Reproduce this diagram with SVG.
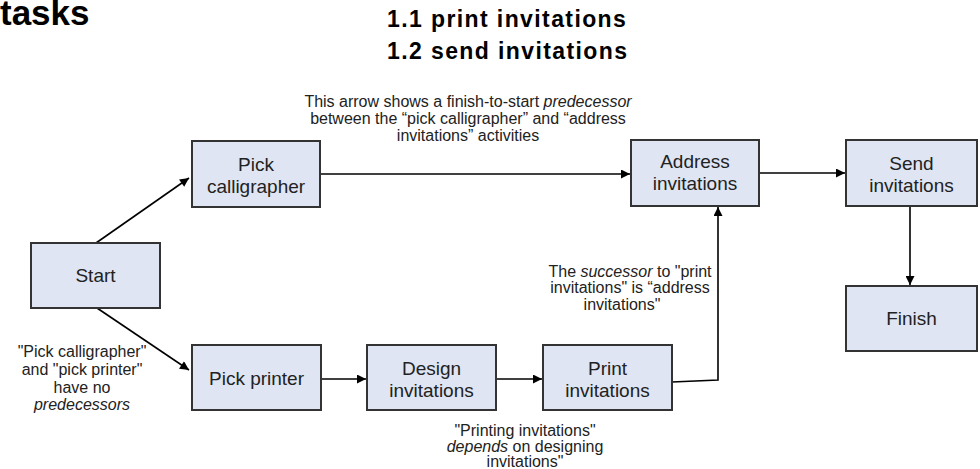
<svg xmlns="http://www.w3.org/2000/svg" width="980" height="469" viewBox="0 0 980 469">
<style>
.box{fill:#dfe5f3;stroke:#333;stroke-width:2}
.lbl{font-family:"Liberation Sans",Arial,sans-serif;font-size:19px;fill:#222;text-anchor:middle}
.note{font-family:"Liberation Sans",Arial,sans-serif;font-size:16px;fill:#222;text-anchor:middle}
.title{font-family:"Liberation Sans",Arial,sans-serif;font-weight:bold;fill:#000}
.con{fill:none;stroke:#000;stroke-width:1.6;marker-end:url(#ah)}
</style>
<defs>
<marker id="ah" viewBox="0 0 10 10" refX="10" refY="5" markerWidth="11" markerHeight="9" markerUnits="userSpaceOnUse" orient="auto">
<path d="M0,0 L10,5 L0,10 z" fill="#000"/>
</marker>
</defs>
<rect width="980" height="469" fill="#fff"/>
<text class="title" x="0" y="25" font-size="35">tasks</text>
<text class="title" x="387" y="27" font-size="23" letter-spacing="1.4">1.1 print invitations</text>
<text class="title" x="387" y="59" font-size="23" letter-spacing="1.4">1.2 send invitations</text>

<g id="connectors">
<path class="con" d="M96,243 L189,178"/>
<path class="con" d="M97,308 L189,370"/>
<path class="con" d="M321,174 L630,174"/>
<path class="con" d="M760,173 L845,173"/>
<path class="con" d="M910,207 L910,285"/>
<path class="con" d="M321,379 L366,379"/>
<path class="con" d="M496,379 L542,379"/>
<path class="con" d="M672,382 L718,380 L718,207"/>
</g>

<g id="start"><rect class="box" x="31" y="243" width="129" height="65"/><text class="lbl" x="95.5" y="282">Start</text></g>
<g id="pick-calligrapher"><rect class="box" x="192" y="141" width="128" height="66"/><text class="lbl" x="256" y="171">Pick</text><text class="lbl" x="256" y="193">calligrapher</text></g>
<g id="pick-printer"><rect class="box" x="192" y="345" width="129" height="65"/><text class="lbl" x="256.5" y="385">Pick printer</text></g>
<g id="design-invitations"><rect class="box" x="367" y="345" width="129" height="65"/><text class="lbl" x="431.5" y="375">Design</text><text class="lbl" x="431.5" y="397">invitations</text></g>
<g id="print-invitations"><rect class="box" x="543" y="345" width="129" height="65"/><text class="lbl" x="607.5" y="375">Print</text><text class="lbl" x="607.5" y="397">invitations</text></g>
<g id="address-invitations"><rect class="box" x="631" y="140" width="128" height="66"/><text class="lbl" x="695" y="168">Address</text><text class="lbl" x="695" y="190">invitations</text></g>
<g id="send-invitations"><rect class="box" x="846" y="140" width="131" height="66"/><text class="lbl" x="911.5" y="170">Send</text><text class="lbl" x="911.5" y="192">invitations</text></g>
<g id="finish"><rect class="box" x="846" y="286" width="131" height="65"/><text class="lbl" x="911.5" y="325">Finish</text></g>

<g id="notes">
<text class="note" x="468" y="107">This arrow shows a finish-to-start <tspan font-style="italic">predecessor</tspan></text>
<text class="note" x="468" y="124">between the “pick calligrapher” and “address</text>
<text class="note" x="468" y="141">invitations” activities</text>
<text class="note" x="82" y="357" font-size="15">"Pick calligrapher"</text>
<text class="note" x="82" y="375" font-size="15">and "pick printer"</text>
<text class="note" x="82" y="393" font-size="15">have no</text>
<text class="note" x="82" y="410" font-size="15" font-style="italic">predecessors</text>
<text class="note" x="630" y="277">The <tspan font-style="italic">successor</tspan> to "print</text>
<text class="note" x="630" y="293">invitations" is “address</text>
<text class="note" x="622" y="310">invitations"</text>
<text class="note" x="525" y="436" font-size="15.5">"Printing invitations"</text>
<text class="note" x="525" y="451.5" font-size="15.5"><tspan font-style="italic">depends</tspan> on designing</text>
<text class="note" x="525" y="467" font-size="15.5">invitations"</text>
</g>
</svg>
